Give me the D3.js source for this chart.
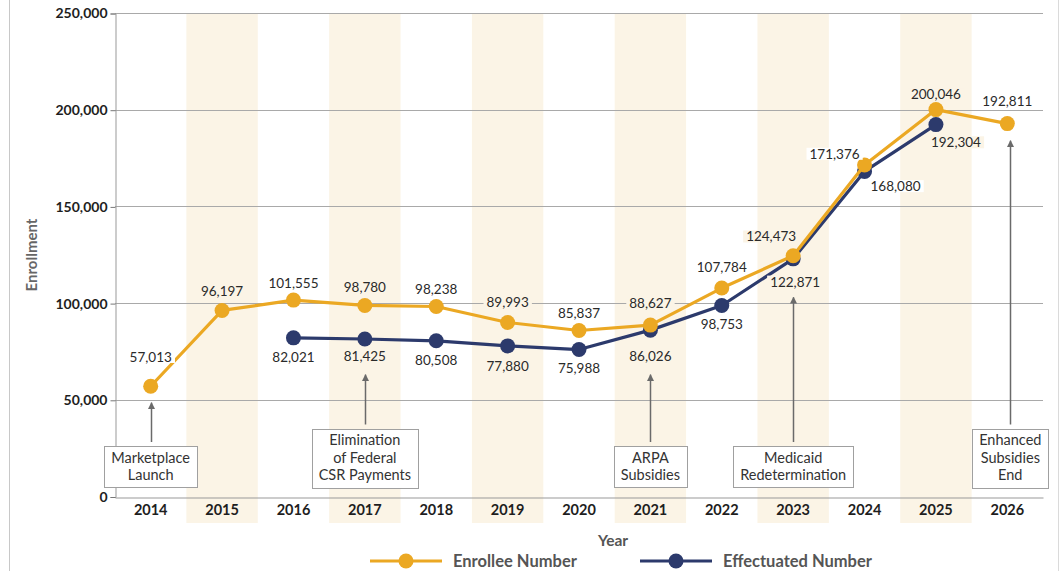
<!DOCTYPE html>
<html>
<head>
<meta charset="utf-8">
<script src="https://cdn.jsdelivr.net/npm/d3@7"></script>
<style>
  html, body { margin: 0; padding: 0; background: #fff; }
  svg { display: block; font-family: Lato, "Open Sans", sans-serif; }
</style>
</head>
<body>
<svg width="1061" height="571"></svg>
<script>
// datos
const years = ["2014","2015","2016","2017","2018","2019","2020","2021","2022","2023","2024","2025","2026"];
const enrollee = [57013, 96197, 101555, 98780, 98238, 89993, 85837, 88627, 107784, 124473, 171376, 200046, 192811];
const effectuated = [null, null, 82021, 81425, 80508, 77880, 75988, 86026, 98753, 122871, 168080, 192304, null];
const yTicks = [0, 50000, 100000, 150000, 200000, 250000];

// anotaciones (año y lineas de texto)
const noteYears = ["2014", "2017", "2021", "2023", "2026"];
const noteText = [
  ["Marketplace", "Launch"],
  ["Elimination", "of Federal", "CSR Payments"],
  ["ARPA", "Subsidies"],
  ["Medicaid", "Redetermination"],
  ["Enhanced", "Subsidies", "End"]
];
// hasta donde llega cada flecha (valor del eje y)
const noteTip = [48500, 63000, 63000, 103000, 184000];
const noteDx = [0, 0, 0, 0, 3];

// ajustes de posicion de etiquetas (px)
const enrolleeLabelDx = [0,0,0,0,0,0,0,0,0,-22,-30,0,0];
const enrolleeLabelDy = [-29,-19,-17,-18,-17,-20,-17,-22,-21,-19,-11,-15,-22];
const effLabelDx = [0,0,0,0,0,0,0,0,0,2,31,20,0];
const effLabelDy = [0,0,19,17,19,20,19,26,19,23,15,18,0];

const svg = d3.select("svg"),
  width = +svg.attr("width"),
  height = +svg.attr("height");

const yellow = "#EBA823",
  navy = "#2C3A6C",
  band = "#FBF4E6",
  fmt = d3.format(",");

const margin = {left: 115, right: 1043, top: 13, bottom: 496.5};

const x = d3.scaleBand()
  .domain(years)
  .range([margin.left, margin.right]);

const y = d3.scaleLinear()
  .domain([0, 250000])
  .range([margin.bottom, margin.top]);

const cx = d => x(d) + x.bandwidth() / 2;

// marco exterior
svg.append("line").attr("x1", 9.5).attr("x2", 9.5).attr("y1", 0).attr("y2", height)
  .attr("stroke", "#c8c8c8");
svg.append("line").attr("x1", 1058.5).attr("x2", 1058.5).attr("y1", 0).attr("y2", height)
  .attr("stroke", "#dadada");

// bandas sombreadas en años alternos
svg.append("g").selectAll("rect")
  .data(years.filter((d, i) => i % 2 === 1))
  .enter().append("rect")
  .attr("x", d => x(d))
  .attr("y", margin.top)
  .attr("width", x.bandwidth())
  .attr("height", 523 - margin.top)
  .attr("fill", band);

// lineas de la cuadricula
svg.append("g").selectAll("line")
  .data(yTicks.filter(d => d > 0))
  .enter().append("line")
  .attr("x1", margin.left)
  .attr("x2", margin.right)
  .attr("y1", d => Math.round(y(d)) + 0.5)
  .attr("y2", d => Math.round(y(d)) + 0.5)
  .attr("stroke", "#a9a9a9")
  .attr("stroke-width", 1);

// eje y
const yAxis = svg.append("g")
  .attr("transform", "translate(" + (margin.left + 0.5) + ",0.5)")
  .call(d3.axisLeft(y).tickValues(yTicks).tickFormat(fmt).tickSize(5).tickPadding(3));
yAxis.select(".domain").attr("stroke", "#999");
yAxis.selectAll(".tick line").attr("stroke", "#777");
yAxis.selectAll("text")
  .attr("fill", "#1e1e1e")
  .style("font-size", "14px")
  .style("font-weight", "700")
  .style("font-family", "Lato");

// eje x
const xAxis = svg.append("g")
  .attr("transform", "translate(0," + (Math.round(margin.bottom) + 0.5) + ")")
  .call(d3.axisBottom(x).tickSize(0).tickPadding(7));
xAxis.select(".domain").attr("stroke", "#999");
xAxis.selectAll("text")
  .attr("fill", "#1e1e1e")
  .style("font-size", "14.5px")
  .style("font-weight", "700")
  .style("font-family", "Lato");

// titulos de los ejes
svg.append("text")
  .attr("transform", "translate(37,255) rotate(-90)")
  .attr("text-anchor", "middle")
  .attr("fill", "#666")
  .style("font-size", "15px")
  .style("font-weight", "700")
  .text("Enrollment");

svg.append("text")
  .attr("x", 613)
  .attr("y", 546)
  .attr("text-anchor", "middle")
  .attr("fill", "#555")
  .style("font-size", "15.5px")
  .style("font-weight", "700")
  .text("Year");

// anotaciones con flecha
svg.append("defs").append("marker")
  .attr("id", "arrow")
  .attr("viewBox", "0 0 10 10")
  .attr("refX", 9).attr("refY", 5)
  .attr("markerWidth", 7).attr("markerHeight", 7)
  .attr("markerUnits", "userSpaceOnUse")
  .attr("orient", "auto")
  .append("path")
  .attr("d", "M0,0L10,5L0,10z")
  .attr("fill", "#6a6a6a");

const boxBottom = 487, lineH = 17.5;
noteYears.forEach(function(yr, i) {
  const lines = noteText[i];
  const g = svg.append("g");
  const top = boxBottom - lines.length * lineH - 6;
  let xc = cx(yr) + noteDx[i];
  const txt = g.append("text")
    .attr("text-anchor", "middle")
    .attr("fill", "#333")
    .style("font-size", "14.5px");
  lines.forEach(function(l, j) {
    txt.append("tspan")
      .attr("x", xc)
      .attr("y", top + 3 + lineH * (j + 0.5))
      .attr("dy", "0.35em")
      .text(l);
  });
  const bb = txt.node().getBBox();
  const w = bb.width + 14;
  g.insert("rect", "text")
    .attr("x", Math.round(xc - w / 2) + 0.5)
    .attr("y", Math.round(top) + 0.5)
    .attr("width", Math.round(w))
    .attr("height", Math.round(boxBottom - top))
    .attr("fill", "#fff")
    .attr("stroke", "#a0a0a0");
  g.append("line")
    .attr("x1", Math.round(xc) + 0.5)
    .attr("x2", Math.round(xc) + 0.5)
    .attr("y1", top - 4)
    .attr("y2", y(noteTip[i]))
    .attr("stroke", "#6a6a6a")
    .attr("stroke-width", 1.5)
    .attr("marker-end", "url(#arrow)");
});

// series
const series = [
  {name: "Enrollee Number", values: enrollee, color: yellow, dx: enrolleeLabelDx, dy: enrolleeLabelDy},
  {name: "Effectuated Number", values: effectuated, color: navy, dx: effLabelDx, dy: effLabelDy}
];

const line = d3.line()
  .defined(d => d.v != null)
  .x(d => cx(d.year))
  .y(d => y(d.v));

// primero la serie efectiva, luego la de inscritos encima
[series[1], series[0]].forEach(function(s) {
  const pts = years.map((yr, i) => ({year: yr, v: s.values[i], i: i}));
  const g = svg.append("g");
  g.append("path")
    .datum(pts)
    .attr("d", line)
    .attr("fill", "none")
    .attr("stroke", s.color)
    .attr("stroke-width", 3.2)
    .attr("stroke-linejoin", "round");
  g.selectAll("circle")
    .data(pts.filter(d => d.v != null))
    .enter().append("circle")
    .attr("cx", d => cx(d.year))
    .attr("cy", d => y(d.v))
    .attr("r", 7.5)
    .attr("fill", s.color);
});

// etiquetas de valores (con fondo del color local)
series.forEach(function(s) {
  const pts = years.map((yr, i) => ({year: yr, v: s.values[i], i: i})).filter(d => d.v != null);
  const lg = svg.append("g");
  pts.forEach(function(d) {
    const lx = cx(d.year) + s.dx[d.i],
      ly = y(d.v) + s.dy[d.i];
    const t = lg.append("text")
      .attr("x", lx)
      .attr("y", ly)
      .attr("dy", "0.35em")
      .attr("text-anchor", "middle")
      .attr("fill", "#2a2a2a")
      .style("font-size", "13.5px")
      .text(fmt(d.v));
    const bb = t.node().getBBox();
    lg.insert("rect", function() { return t.node(); })
      .attr("x", bb.x - 3)
      .attr("y", bb.y + 2)
      .attr("width", bb.width + 6)
      .attr("height", bb.height - 4)
      .attr("fill", d.i % 2 === 1 ? band : "#fff");
  });
});

// leyenda
const legend = svg.append("g");
const legItems = [
  {name: "Enrollee Number", color: yellow, x0: 370},
  {name: "Effectuated Number", color: navy, x0: 640}
];
legItems.forEach(function(d) {
  legend.append("line")
    .attr("x1", d.x0).attr("x2", d.x0 + 72)
    .attr("y1", 561).attr("y2", 561)
    .attr("stroke", d.color).attr("stroke-width", 3);
  legend.append("circle")
    .attr("cx", d.x0 + 36).attr("cy", 561).attr("r", 7.5)
    .attr("fill", d.color);
  legend.append("text")
    .attr("x", d.x0 + 83).attr("y", 561)
    .attr("dy", "0.35em")
    .attr("fill", "#555")
    .style("font-size", "16.5px")
    .style("font-weight", "700")
    .text(d.name);
});
</script>
</body>
</html>
